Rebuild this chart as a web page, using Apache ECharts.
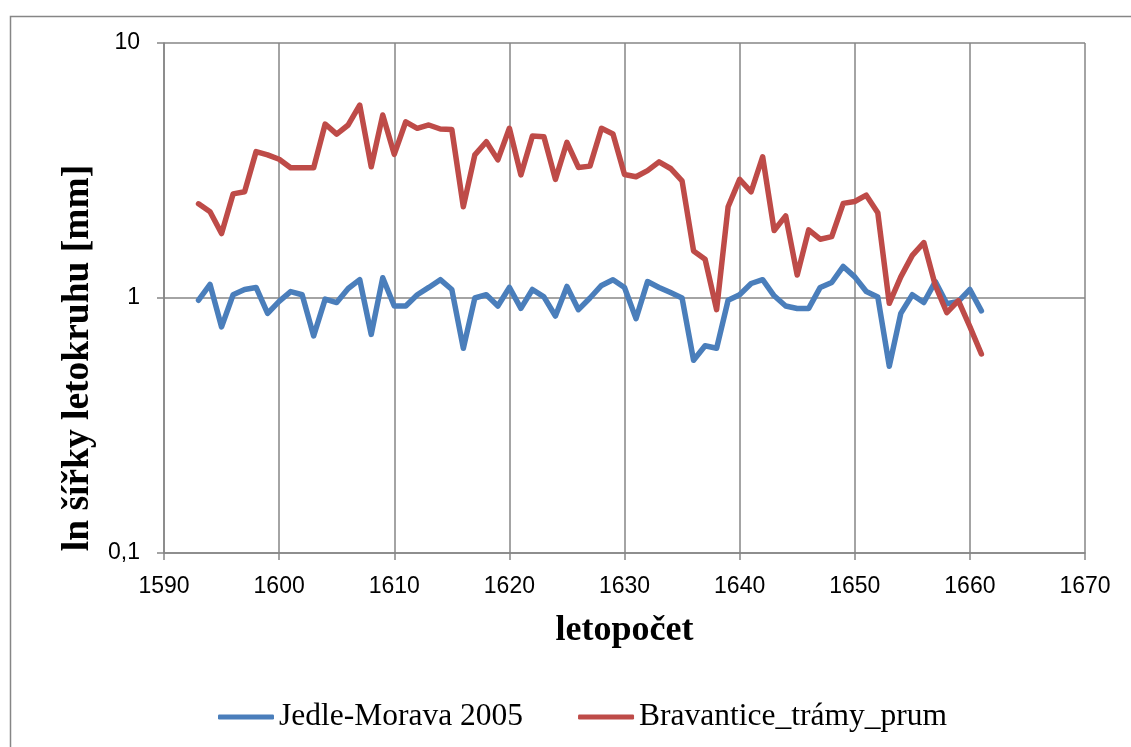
<!DOCTYPE html>
<html>
<head>
<meta charset="utf-8">
<script src="https://cdn.jsdelivr.net/npm/echarts@6/dist/echarts.min.js"></script>
<style>
html,body{margin:0;padding:0;background:#fff;}
#chart{width:1131px;height:747px;}
</style>
</head>
<body>
<div id="chart"></div>
<script>
const years = [1593,1594,1595,1596,1597,1598,1599,1600,1601,1602,1603,1604,1605,1606,1607,1608,1609,1610,
  1611,1612,1613,1614,1615,1616,1617,1618,1619,1620,1621,1622,1623,1624,1625,1626,1627,1628,1629,1630,
  1631,1632,1633,1634,1635,1636,1637,1638,1639,1640,1641,1642,1643,1644,1645,1646,1647,1648,1649,1650,
  1651,1652,1653,1654,1655,1656,1657,1658,1659,1660,1661];

const jedleMorava = [0.98,1.13,0.77,1.03,1.08,1.10,0.87,0.97,1.06,1.03,0.71,0.99,0.96,1.09,1.18,0.72,1.20,0.93,
  0.93,1.03,1.10,1.18,1.08,0.635,1.00,1.03,0.93,1.10,0.91,1.08,1.01,0.85,1.11,0.90,1.00,1.12,1.18,1.10,
  0.83,1.16,1.10,1.05,1.00,0.57,0.65,0.635,0.98,1.03,1.14,1.18,1.02,0.93,0.91,0.91,1.10,1.15,1.33,1.21,
  1.06,1.01,0.54,0.87,1.03,0.96,1.16,0.95,0.97,1.08,0.89];

const bravantice = [2.34,2.18,1.79,2.56,2.61,3.75,3.64,3.50,3.24,3.24,3.24,4.81,4.39,4.77,5.71,3.27,5.22,3.66,
  4.91,4.63,4.77,4.60,4.58,2.28,3.64,4.10,3.48,4.63,3.04,4.32,4.29,2.92,4.08,3.25,3.29,4.63,4.40,3.05,
  2.99,3.16,3.42,3.22,2.88,1.53,1.42,0.90,2.28,2.92,2.61,3.58,1.84,2.10,1.23,1.85,1.70,1.74,2.35,2.39,
  2.53,2.16,0.953,1.21,1.47,1.65,1.12,0.876,0.976,0.772,0.603];

const seriesNames = ['Jedle-Morava 2005','Bravantice_trámy_prum'];
const xTitle = 'letopočet';
const yTitle = 'ln šířky letokruhu [mm]';

const chart = echarts.init(document.getElementById('chart'), null, {renderer:'canvas'});
const grey = '#868686';
const pairs = arr => years.map((y,i)=>[y, arr[i]]);

chart.setOption({
  animation:false,
  backgroundColor:'#ffffff',
  grid:{left:164, right:46, top:43, bottom:194, containLabel:false},
  xAxis:{
    type:'value', min:1590, max:1670, interval:10,
    name:xTitle, nameLocation:'middle', nameGap:60,
    nameTextStyle:{fontFamily:'Liberation Serif', fontWeight:'bold', fontSize:36, color:'#000'},
    axisLine:{show:true, lineStyle:{color:grey, width:1.5}},
    axisTick:{show:true, inside:false, length:7, lineStyle:{color:grey, width:1.5}},
    axisLabel:{fontFamily:'Liberation Sans', fontSize:23, color:'#000', margin:22,
      formatter: v => String(v)},
    splitLine:{show:true, lineStyle:{color:grey, width:1.5}}
  },
  yAxis:{
    type:'log', logBase:10, min:0.1, max:10,
    axisLine:{show:true, lineStyle:{color:grey, width:1.5}},
    axisTick:{show:true, inside:false, length:7, lineStyle:{color:grey, width:1.5}},
    axisLabel:{fontFamily:'Liberation Sans', fontSize:23, color:'#000', margin:24,
      formatter: v => String(+v.toPrecision(3)).replace('.', ',')},
    splitLine:{show:true, lineStyle:{color:grey, width:1.5}},
    minorTick:{show:false}, minorSplitLine:{show:false}
  },
  legend:{
    left:213, top:696, itemGap:55, itemWidth:56, itemHeight:5, icon:'roundRect',
    textStyle:{fontFamily:'Liberation Serif', fontSize:31.5, color:'#000'},
    data:seriesNames
  },
  graphic:[
    {type:'rect', left:8, top:14, shape:{width:1200, height:800}, silent:true, z:-10,
      style:{fill:'none', stroke:grey, lineWidth:1.5}},
    {type:'text', x:78, y:358, rotation:Math.PI/2,
      style:{text:yTitle, fontFamily:'Liberation Serif', fontWeight:'bold', fontSize:37.5,
        fill:'#000', align:'center', verticalAlign:'middle'}}
  ],
  series:[
    {name:seriesNames[0], type:'line', data:pairs(jedleMorava), showSymbol:false, symbol:'none',
      color:'#4a7ebb', lineStyle:{width:5.5, color:'#4a7ebb', cap:'round', join:'round'}},
    {name:seriesNames[1], type:'line', data:pairs(bravantice), showSymbol:false, symbol:'none',
      color:'#be4b48', lineStyle:{width:5.5, color:'#be4b48', cap:'round', join:'round'}}
  ]
});
</script>
</body>
</html>
